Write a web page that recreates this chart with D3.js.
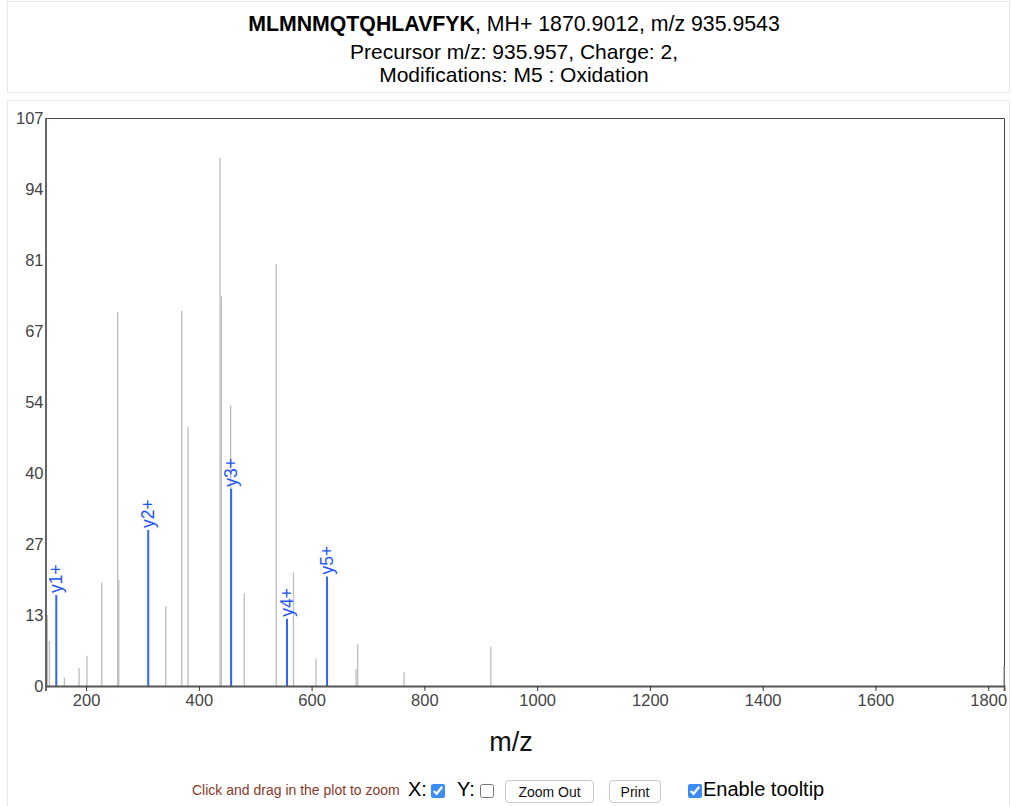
<!DOCTYPE html>
<meta charset="utf-8">
<head>
<script src="https://d3js.org/d3.v7.min.js"></script>
<style>
  body { margin: 0; background: #fff; font-family: "Liberation Sans", Arial, sans-serif; }
  #chart { position: absolute; left: 0; top: 0; }
  .ctl { position: absolute; white-space: nowrap; }
  .hint { font-size: 14px; color: #8b3a2a; }
  .big { font-size: 20px; color: #000; }
  input[type=checkbox] { margin: 0; width: 14px; height: 14px; accent-color: #3b8cf5; }
  button { font-family: "Liberation Sans", Arial, sans-serif; font-size: 14px; background: #fff;
           border: 1px solid #c8c8c8; border-radius: 4px; padding: 0; color: #111; }
</style>
</head>
<body>
<svg id="chart" width="1012" height="806"></svg>

<span class="ctl hint" style="left:192px; top:782px;">Click and drag in the plot to zoom</span>
<span class="ctl big" style="left:408px; top:778px;">X:</span>
<input class="ctl" type="checkbox" checked style="left:431px; top:784px;">
<span class="ctl big" style="left:457px; top:778px;">Y:</span>
<input class="ctl" type="checkbox" style="left:480px; top:784px;">
<button class="ctl" style="left:505px; top:780px; width:89px; height:23px;">Zoom Out</button>
<button class="ctl" style="left:609px; top:780px; width:52px; height:23px;">Print</button>
<input class="ctl" type="checkbox" checked style="left:688px; top:784px;">
<span class="ctl big" style="left:703px; top:778px;">Enable tooltip</span>

<script>
// peptide header
var peptide = "MLMNMQTQHLAVFYK";
var headerRest = ", MH+ 1870.9012, m/z 935.9543";
var headerLine2 = "Precursor m/z: 935.957, Charge: 2,";
var headerLine3 = "Modifications: M5 : Oxidation";

// unmatched peaks (m/z, intensity)
var peakMz  = [131.4, 134.9, 161.5, 187.6, 201.5, 227.8, 256.0, 258.0, 341.3, 369.7, 380.9,
               437.6, 439.9, 456.4, 480.5, 537.2, 567.8, 607.8, 678.8, 681.8, 764.0, 917.8, 1827.5];
var peakInt = [13.4, 8.5, 1.6, 3.4, 5.7, 19.5, 70.7, 20.0, 15.1, 70.9, 49.0,
               99.9, 73.7, 53.1, 17.5, 79.8, 21.5, 5.2, 3.2, 7.9, 2.6, 7.4, 3.8];

// matched y ions
var ionLabels = ["y1+", "y2+", "y3+", "y4+", "y5+"];
var ionMz     = [147.11, 310.18, 457.24, 556.31, 627.35];
var ionInt    = [17.2, 29.5, 37.3, 12.7, 20.7];

var xDomain = [128, 1828];
var xTicks = [200, 400, 600, 800, 1000, 1200, 1400, 1600, 1800];
var yMax = 107.4;
var yTickLabels = ["0", "13", "27", "40", "54", "67", "81", "94", "107"];

var svg = d3.select("#chart");

// dotted panels
svg.append("rect").attr("x", 7.5).attr("y", 1.5).attr("width", 1002).attr("height", 91)
  .attr("fill", "none").attr("stroke", "#cdd3d8").attr("stroke-dasharray", "1,1");
svg.append("rect").attr("x", 7.5).attr("y", 100.5).attr("width", 1002).attr("height", 720)
  .attr("fill", "none").attr("stroke", "#cdd3d8").attr("stroke-dasharray", "1,1");

// header text
var t1 = svg.append("text").attr("x", 514).attr("y", 31).attr("text-anchor", "middle")
  .attr("font-size", 21.3).attr("fill", "#000");
t1.append("tspan").attr("font-weight", "bold").text(peptide);
t1.append("tspan").text(headerRest);
svg.append("text").attr("x", 514).attr("y", 59).attr("text-anchor", "middle")
  .attr("font-size", 21).attr("fill", "#000").text(headerLine2);
svg.append("text").attr("x", 514).attr("y", 81.5).attr("text-anchor", "middle")
  .attr("font-size", 21).attr("fill", "#000").text(headerLine3);

var plotLeft = 45.5, plotRight = 1004, plotTop = 118, plotBottom = 686;

var x = d3.scaleLinear().domain(xDomain).range([plotLeft, plotRight]);
var y = d3.scaleLinear().domain([0, yMax]).range([plotBottom, plotTop]);

// frame top/right
svg.append("path")
  .attr("d", "M" + plotLeft + "," + (plotTop + 0.5) + "H" + (plotRight + 0.5) + "V" + plotBottom)
  .attr("fill", "none").attr("stroke", "#444").attr("stroke-width", 1);

// peaks
svg.append("g").selectAll("line")
  .data(peakMz.map(function(m, i) { return { mz: m, it: peakInt[i] }; }))
  .enter().append("line")
  .attr("x1", function(d) { return x(d.mz); }).attr("x2", function(d) { return x(d.mz); })
  .attr("y1", y(0)).attr("y2", function(d) { return y(d.it); })
  .attr("stroke", "#bdbdbd").attr("stroke-width", 1.3);

var ions = ionMz.map(function(m, i) { return { mz: m, it: ionInt[i], label: ionLabels[i] }; });
var ig = svg.append("g");
ig.selectAll("line").data(ions).enter().append("line")
  .attr("x1", function(d) { return x(d.mz); }).attr("x2", function(d) { return x(d.mz); })
  .attr("y1", y(0)).attr("y2", function(d) { return y(d.it); })
  .attr("stroke", "#2f66ff").attr("stroke-width", 2);
ig.selectAll("text").data(ions).enter().append("text")
  .attr("transform", function(d) {
    return "translate(" + (x(d.mz) + 6) + "," + (y(d.it) - 2) + ") rotate(-90)";
  })
  .attr("font-size", 17.5).attr("fill", "#1f55ff").text(function(d) { return d.label; });

// axes
var xAxis = d3.axisBottom(x).tickValues(xTicks).tickSize(5).tickPadding(3).tickFormat(d3.format("d"));
var gx = svg.append("g").attr("transform", "translate(0," + plotBottom + ")").call(xAxis);
gx.select(".domain").attr("stroke", "#555").attr("stroke-width", 1.8);
gx.selectAll(".tick line").attr("stroke", "#333");
gx.selectAll("text").attr("font-size", 16.5).attr("fill", "#444")
  .attr("font-family", "Liberation Sans, Arial, sans-serif");

var yAxis = d3.axisLeft(y)
  .tickValues(d3.range(9).map(function(i) { return yMax * i / 8; }))
  .tickSize(0).tickPadding(2)
  .tickFormat(function(d, i) { return yTickLabels[i]; });
var gy = svg.append("g").attr("transform", "translate(" + plotLeft + ",0)").call(yAxis);
gy.select(".domain").attr("stroke", "#555").attr("stroke-width", 1.8);
gy.selectAll("text").attr("font-size", 16.5).attr("fill", "#444")
  .attr("font-family", "Liberation Sans, Arial, sans-serif");

// x label
svg.append("text").attr("x", 511).attr("y", 751).attr("text-anchor", "middle")
  .attr("font-size", 27).attr("fill", "#111").text("m/z");
</script>
</body>
